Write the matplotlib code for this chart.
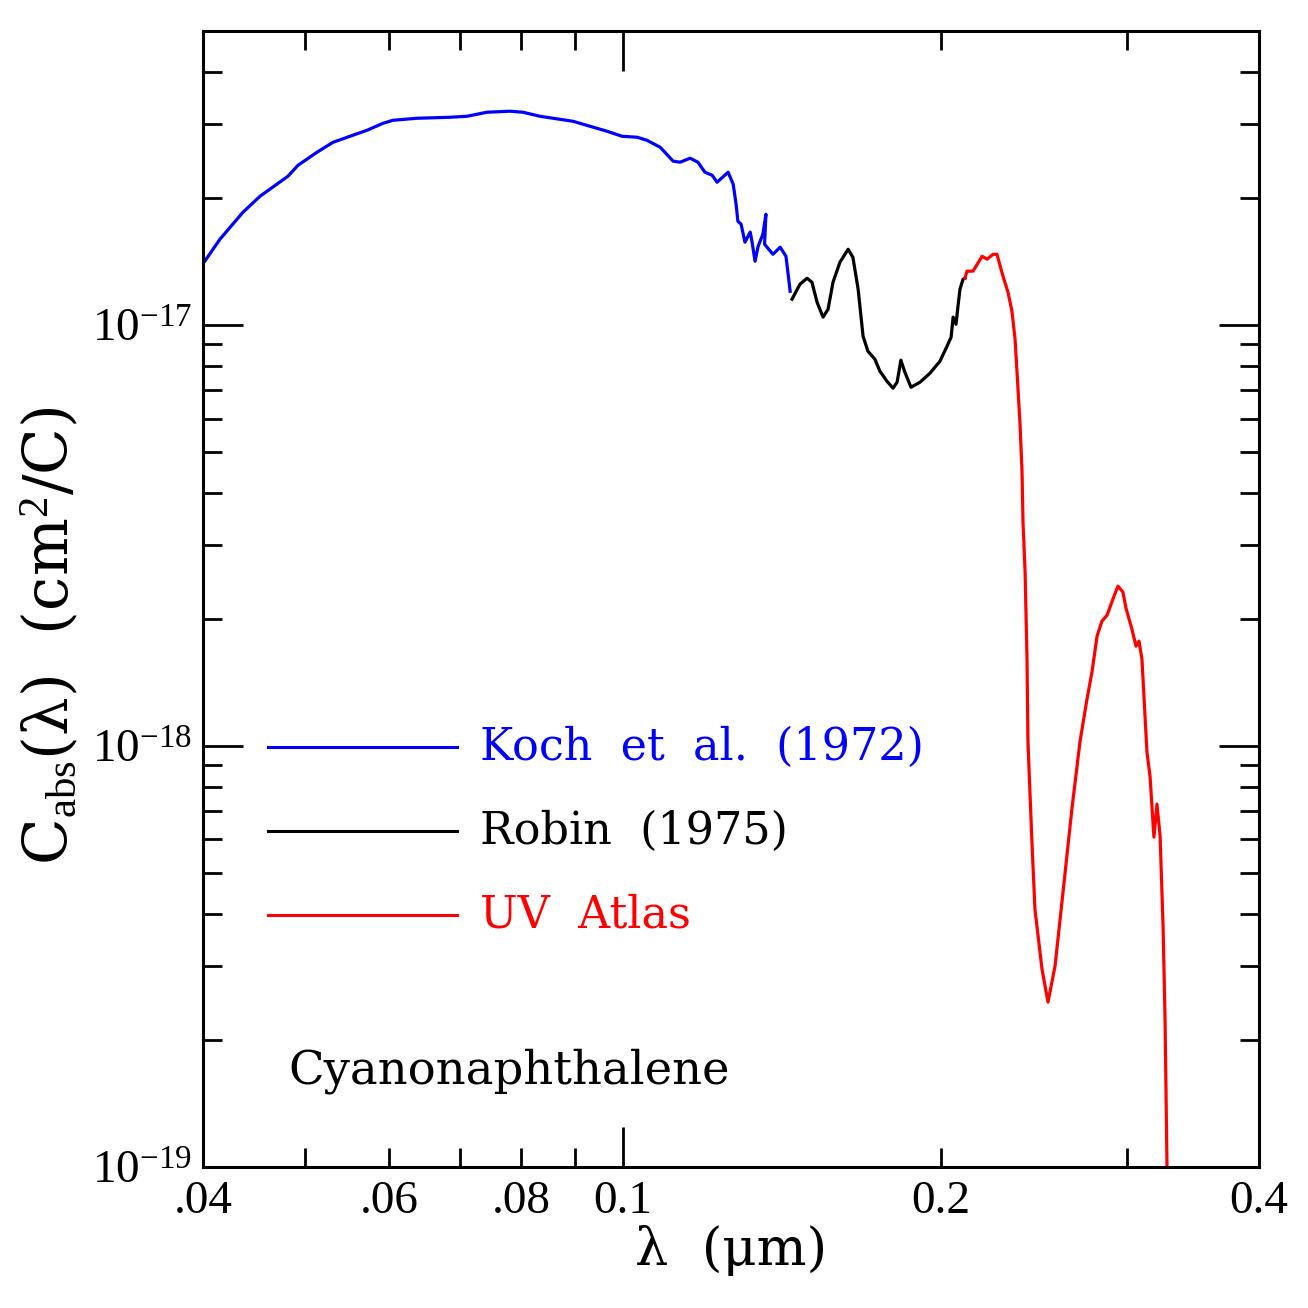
import matplotlib
matplotlib.use("Agg")
import matplotlib.pyplot as plt
import numpy as np

# ---- data (wavelength in micron, C_abs in units of 1e-17 cm^2/C) ----
koch_wl = [0.0400, 0.04151, 0.04364, 0.04530, 0.04814, 0.04921, 0.05129, 0.05311,
           0.05511, 0.05720, 0.05923, 0.06052, 0.06378, 0.06855, 0.07113, 0.07430,
           0.07812, 0.08036, 0.08340, 0.08964, 0.09302, 0.09654, 0.09975, 0.1031,
           0.1053, 0.1084, 0.1115, 0.1132, 0.1157, 0.1177, 0.1195, 0.1214, 0.1227,
           0.1257, 0.1271, 0.1279, 0.1284, 0.1293, 0.1304, 0.1319, 0.1324, 0.1333,
           0.1342, 0.1356, 0.1365, 0.1361, 0.1386, 0.1408, 0.1426, 0.1429, 0.1439]
koch_c = [1.40, 1.601, 1.855, 2.025, 2.259, 2.399, 2.576, 2.720,
          2.811, 2.905, 3.018, 3.068, 3.102, 3.119, 3.136, 3.206,
          3.224, 3.206, 3.136, 3.051, 2.969, 2.889, 2.811, 2.796,
          2.750, 2.647, 2.453, 2.439, 2.493, 2.439, 2.309, 2.271, 2.186,
          2.309, 2.162, 1.939, 1.766, 1.738, 1.575, 1.664, 1.583, 1.419,
          1.540, 1.645, 1.835, 1.557, 1.474, 1.532, 1.458, 1.396, 1.204]

robin_wl = [0.1445, 0.1470, 0.1493, 0.1509, 0.1526, 0.1546, 0.1563, 0.1580, 0.1604,
            0.1633, 0.1650, 0.1669, 0.1687, 0.1705, 0.1731, 0.1750, 0.1777, 0.1801,
            0.1817, 0.1832, 0.1848, 0.1873, 0.1910, 0.1952, 0.1995, 0.2026, 0.2044,
            0.2053, 0.2066, 0.2075, 0.2084, 0.2098, 0.2107]
robin_c = [1.153, 1.251, 1.293, 1.265, 1.134, 1.045, 1.091, 1.265, 1.411,
           1.515, 1.450, 1.218, 0.9416, 0.8673, 0.8304, 0.7778, 0.7362, 0.7084,
           0.7320, 0.8258, 0.7732, 0.7122, 0.7320, 0.7691, 0.8213, 0.8915, 0.9365,
           1.045, 1.005, 1.110, 1.218, 1.286, 1.293]

atlas_wl = [0.2107, 0.2116, 0.2144, 0.2187, 0.2211, 0.2240, 0.2259, 0.2289, 0.2314,
            0.2334, 0.2350, 0.2360, 0.2375, 0.2386, 0.2391, 0.2402, 0.2412, 0.2417,
            0.2438, 0.2454, 0.2492, 0.2525, 0.2564, 0.2609, 0.2660, 0.2707, 0.2749,
            0.2779, 0.2810, 0.2840, 0.2872, 0.2909, 0.2941, 0.2973, 0.2993, 0.3032,
            0.3059, 0.3079, 0.3099, 0.3133, 0.3154, 0.3181, 0.3202, 0.3224, 0.3245,
            0.3259, 0.3273, 0.3276]
atlas_c = [1.293, 1.344, 1.344, 1.458, 1.435, 1.474, 1.474, 1.307, 1.198,
           1.080, 0.9262, 0.7732, 0.5884, 0.4477, 0.3404, 0.2590, 0.1609, 0.1022,
           0.05916, 0.04101, 0.02954, 0.02465, 0.03002, 0.04499, 0.07088, 0.1022, 0.1293,
           0.1499, 0.1825, 0.1981, 0.2047, 0.2235, 0.2399, 0.2322, 0.2127, 0.1896,
           0.1728, 0.1776, 0.1609, 0.09676, 0.08487, 0.06077, 0.07281, 0.06111, 0.03736,
           0.02246, 0.0100, 0.0064]

series_labels = ["Koch  et  al.  (1972)", "Robin  (1975)", "UV  Atlas"]
series_colors = ["#0000ff", "#000000", "#ff0000"]
molecule = "Cyanonaphthalene"

xtick_minor = [0.04, 0.05, 0.06, 0.07, 0.08, 0.09, 0.2, 0.3, 0.4]
xtick_minor_labels = [".04", "", ".06", "", ".08", "", "0.2", "", "0.4"]
xtick_major = [0.1]
xtick_major_labels = ["0.1"]
ytick_major = [1e-19, 1e-18, 1e-17]
ytick_major_labels = [r"$10^{-19}$", r"$10^{-18}$", r"$10^{-17}$"]

plt.rcParams["mathtext.fontset"] = "custom"
plt.rcParams["mathtext.rm"] = "Liberation Serif"
plt.rcParams["mathtext.it"] = "Liberation Serif:italic"
plt.rcParams["font.family"] = ["Liberation Serif", "DejaVu Serif"]

fig = plt.figure(figsize=(13.08, 13.08), dpi=100)
ax = fig.add_axes([203/1308, 1 - 1167/1308, 1056/1308, 1136/1308])

scale = 1e-17
lw = 2.3
for wl, c, col in [(koch_wl, koch_c, series_colors[0]),
                   (robin_wl, robin_c, series_colors[1]),
                   (atlas_wl, atlas_c, series_colors[2])]:
    ax.plot(wl, np.array(c) * scale, color=col, lw=lw, solid_joinstyle="round")

ax.set_xscale("log")
ax.set_yscale("log")
ax.set_xlim(0.04, 0.4)
ax.set_ylim(1e-19, 5e-17)

ax.set_xticks(xtick_major, labels=xtick_major_labels)
ax.set_xticks(xtick_minor, labels=xtick_minor_labels, minor=True)
ax.set_yticks(ytick_major, labels=ytick_major_labels)
ax.yaxis.set_minor_locator(matplotlib.ticker.LogLocator(base=10, subs=np.arange(2, 10)))
ax.yaxis.set_minor_formatter(matplotlib.ticker.NullFormatter())

ax.tick_params(which="both", direction="in", top=True, right=True, width=2,
               labelsize=34, colors="black")
ax.tick_params(which="major", length=29)
ax.tick_params(which="minor", length=14)
ax.tick_params(axis="x", which="both", pad=10)
ax.tick_params(axis="y", which="both", pad=8)
for s in ax.spines.values():
    s.set_linewidth(2.2)

ax.set_xlabel("λ  (μm)", fontsize=38, family=["DejaVu Serif"])
ax.xaxis.set_label_coords(0.5, -0.051)
ax.set_ylabel(r"C$_{\rm abs}$(λ)  (cm$^2$/C)", fontsize=44, family=["DejaVu Serif"])
ax.yaxis.set_label_coords(-0.115, 0.468)

# legend drawn manually
rows_y = [0.3697, 0.2958, 0.2218]
for lab, col, yy in zip(series_labels, series_colors, rows_y):
    ax.plot([0.0616, 0.2405], [yy, yy], color=col, lw=2.2, transform=ax.transAxes,
            clip_on=False)
    ax.text(0.2623, yy, lab, color=col, fontsize=32, transform=ax.transAxes,
            va="center", ha="left", family=["DejaVu Serif"])

ax.text(0.0805, 0.0845, molecule, fontsize=33.5, transform=ax.transAxes,
        va="center", ha="left", family=["DejaVu Serif"])

fig.savefig("out.png", dpi=100)
